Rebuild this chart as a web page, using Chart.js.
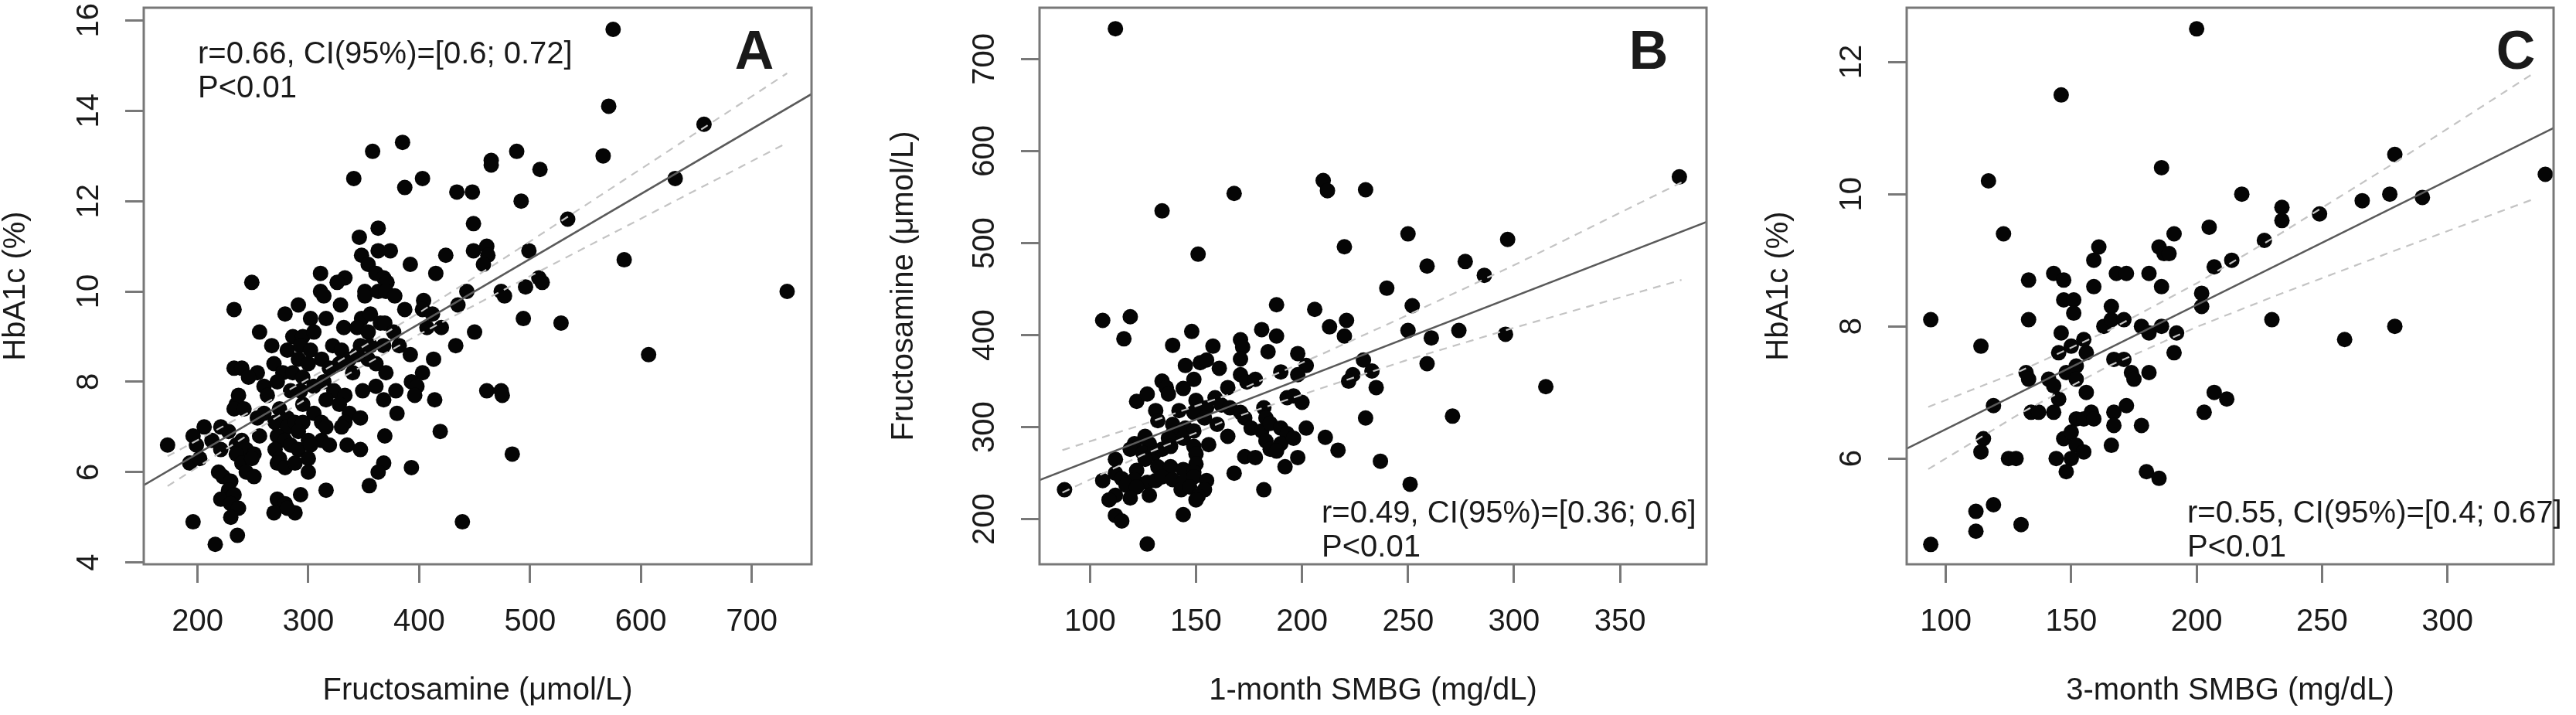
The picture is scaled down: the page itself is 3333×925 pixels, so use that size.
<!DOCTYPE html>
<html>
<head>
<meta charset="utf-8">
<script src="https://cdn.jsdelivr.net/npm/chart.js@4.4.0/dist/chart.umd.min.js"></script>
<style>
  body { margin: 0; background: #fff; width: 3333px; height: 925px; overflow: hidden; position: relative;
         font-family: "Liberation Sans", Arial, sans-serif; color: #1a1a1a; }
  .panel { position: absolute; top: 0; height: 925px; }
  .note { position: absolute; font-size: 40px; line-height: 44px; white-space: nowrap; }
  .tag { position: absolute; width: 120px; text-align: center; font-size: 70px; line-height: 80px; font-weight: bold; }
</style>
</head>
<body>
<div class="panel" style="left:0;width:1120px"><canvas id="chartA"></canvas></div>
<div class="panel" style="left:1130px;width:1110px"><canvas id="chartB"></canvas></div>
<div class="panel" style="left:2250px;width:1083px"><canvas id="chartC"></canvas></div>

<div class="note" style="left:256px;top:46px">r=0.66, CI(95%)=[0.6; 0.72]<br>P&lt;0.01</div>
<div class="note" style="left:1710px;top:640px">r=0.49, CI(95%)=[0.36; 0.6]<br>P&lt;0.01</div>
<div class="note" style="left:2830px;top:640px">r=0.55, CI(95%)=[0.4; 0.67]<br>P&lt;0.01</div>
<div class="tag" style="left:916px;top:25px">A</div>
<div class="tag" style="left:2073px;top:25px">B</div>
<div class="tag" style="left:3195px;top:25px">C</div>

<script>
// Panel A: HbA1c vs fructosamine
const aFructosamine = [
  449,363,346,363,374,348,354,424,392,449, 461,462,458,415,311,249,333,326,361,368,
  371,311,314,351,351,363,370,378,474,477, 443,233,291,279,329,387,404,403,435,302,
  316,348,356,365,369,412,407,420,256,332, 344,354,450,286,295,305,267,281,293,302,
  322,330,347,356,368,377,382,433,392,413, 291,300,312,269,277,233,240,254,246,286,
  295,319,328,337,344,354,361,340,370,403, 393,398,260,272,305,314,237,235,263,284,
  293,323,333,349,361,379,461,474,475,368, 396,414,233,242,254,260,274,281,295,305,
  316,328,337,347,380,206,221,228,270,281, 288,295,312,333,330,196,199,213,240,256,
  272,279,291,300,316,312,369,419,173,221, 235,244,251,270,274,284,291,302,319,335,
  347,193,202,235,240,249,272,279,288,300, 368,393,219,223,230,244,251,300,363,355,
  316,228,221,233,293,272,279,230,237,269, 288,281,230,196,439,236,216,
  385,358,465,465,341,403,387,434,448,575, 571,657,488,566,509,631,492,534,499,585,
  732,496,508,511,494,528,607,484
];
const aHbA1c = [
  11.5,11.4,11.2,10.9,10.9,10.8,10.6,10.8,10.6,10.9, 11.0,10.8,10.6,10.4,10.4,10.2,10.3,10.2,10.4,10.3,
  10.2,10.0,9.9,10.0,9.9,10.0,10.0,9.9,10.0,9.9, 10.0,9.6,9.7,9.5,9.7,9.6,9.8,9.6,9.7,9.4,
  9.4,9.4,9.5,9.3,9.3,9.5,9.2,9.2,9.1,9.2, 9.2,9.1,9.1,9.0,9.0,9.1,8.8,8.7,8.8,8.7,
  8.8,8.7,8.8,8.8,8.8,9.1,8.8,8.8,8.6,8.5, 8.5,8.4,8.5,8.4,8.2,8.3,8.3,8.2,8.1,8.2,
  8.1,8.3,8.4,8.5,8.6,8.5,8.4,8.2,8.2,8.2, 8.0,7.9,7.9,8.0,7.9,8.0,7.7,7.5,7.7,7.8,
  7.8,7.8,7.7,7.8,7.9,7.8,7.8,7.8,7.7,7.6, 7.7,7.6,7.4,7.4,7.2,7.3,7.4,7.2,7.5,7.3,
  7.6,7.5,7.3,7.2,7.3,7.0,7.0,6.9,7.1,7.0, 7.1,7.1,7.1,7.1,7.0,6.8,6.6,6.7,6.7,6.8,
  6.8,6.7,6.9,6.7,7.0,6.7,6.8,6.9,6.6,6.5, 6.6,6.5,6.4,6.5,6.3,6.6,6.5,6.6,6.6,6.6,
  6.5,6.2,6.3,6.4,6.2,6.3,6.2,6.1,6.2,6.3, 6.2,6.1,6.0,5.9,5.8,6.0,5.9,6.0,6.0,5.7,
  5.6,5.6,5.4,5.5,5.5,5.4,5.3,5.3,5.2,5.1, 5.1,5.2,5.0,4.9,4.9,4.6,4.4,
  13.3,13.1,12.9,12.8,12.5,12.5,12.3,12.2,12.2,15.8, 14.1,13.7,13.1,13.0,12.7,12.5,12.0,11.6,10.9,10.7,
  10.0,10.1,10.3,10.2,9.4,9.3,8.6,6.4
];
const aFitX = [151.5, 754];
const aFitY = [5.71, 14.37];
const aBandX = [173, 250, 320, 400, 479, 600, 732];
const aBandUpper = [6.35, 7.37, 8.34, 9.53, 10.77, 12.71, 14.83];
const aBandLower = [5.69, 6.89, 7.95, 9.05, 10.07, 11.61, 13.29];
const aXTicks = [200, 300, 400, 500, 600, 700];
const aYTicks = [4, 6, 8, 10, 12, 14, 16];

// Panel B: fructosamine vs 1-month SMBG
const bSmbg1 = [
  151,220,240,188,206,106,119,116,148,181, 188,213,221,220,139,158,171,172,184,198,
  202,145,152,155,161,171,190,198,229,233, 224,222,134,136,149,144,171,174,178,165,
  235,122,127,137,150,159,155,162,166,193, 196,200,131,132,142,149,154,182,183,171,
  173,160,139,139,145,149,176,181,185,190, 193,230,202,211,165,126,128,121,119,137,
  144,149,156,183,185,190,196,217,112,125, 130,134,138,150,150,173,178,188,198,237,
  126,132,138,112,115,122,121,144,149,168, 192,106,127,131,134,139,144,149,155,117,
  122,88,143,147,154,182,112,109,119,128, 151,150,112,115,144,127,
  112,134,168,210,212,230,250,297,259,277, 286,378,252,250,261,274,296,259,315,271,251
];
const bFructosamine = [
  488,496,451,433,428,416,420,396,404,406, 399,409,416,399,389,388,395,387,382,380,
  367,367,370,373,364,374,360,357,373,361, 357,350,350,343,352,342,357,349,352,343,
  343,328,336,336,329,332,321,324,321,332, 334,327,318,307,318,316,310,321,310,316,
  310,303,303,293,299,296,299,296,304,299, 293,310,299,289,290,290,282,282,276,288,
  288,279,281,285,276,282,288,275,265,272, 271,276,279,271,260,268,267,274,267,263,
  265,257,257,250,244,253,243,254,251,250, 257,242,240,242,246,243,240,246,242,237,
  235,232,232,235,232,232,226,221,223,226, 225,221,204,198,205,173,
  733,535,554,568,557,558,510,504,475,480, 465,572,432,405,397,405,401,369,344,312,238
];
const bFitX = [76.2, 390.8];
const bFitY = [242.5, 523];
const bBandX = [87, 125, 165, 210, 251, 300, 379];
const bBandUpper = [275, 303, 335, 380, 423, 476, 566];
const bBandLower = [229, 270, 308, 343, 374, 408, 460];
const bXTicks = [100, 150, 200, 250, 300, 350];
const bYTicks = [200, 300, 400, 500, 600, 700];

// Panel C: HbA1c vs 3-month SMBG
const cSmbg3 = [
  123,205,191,227,161,185,187,189,159,207, 214,143,147,168,172,181,133,159,186,202,
  202,147,151,151,166,94,133,230,163,166, 171,178,181,186,192,146,114,155,156,150,
  145,191,167,171,174,175,181,132,133,141, 143,148,152,152,156,145,119,207,212,134,
  137,143,167,172,152,155,158,159,167,203, 178,147,150,152,115,114,125,128,144,150,
  155,166,148,180,185,119,112,130,112,94,
  200,146,117,186,279,218,266,277,290,339, 234,234,249,259,279
];
const cHbA1c = [
  9.4,9.5,9.4,9.3,9.2,9.2,9.1,9.1,9.0,8.9, 9.0,8.8,8.7,8.8,8.8,8.8,8.7,8.6,8.6,8.5,
  8.3,8.4,8.4,8.2,8.3,8.1,8.1,8.1,8.0,8.1, 8.1,8.0,7.9,8.0,7.9,7.9,7.7,7.8,7.6,7.7,
  7.6,7.6,7.5,7.5,7.3,7.2,7.3,7.3,7.2,7.2, 7.1,7.3,7.4,7.2,7.0,6.9,6.8,7.0,6.9,6.7,
  6.7,6.7,6.7,6.8,6.6,6.6,6.7,6.6,6.5,6.7, 6.5,6.3,6.4,6.2,6.3,6.1,6.0,6.0,6.0,6.0,
  6.1,6.2,5.8,5.8,5.7,5.3,5.2,5.0,4.9,4.7,
  12.5,11.5,10.2,10.4,10.6,10.0,9.9,10.0,9.95,10.3, 9.8,9.6,9.7,7.8,8.0
];
const cFitX = [84.4, 342.3];
const cFitY = [6.15, 11.0];
const cBandX = [93, 130, 165, 200, 232, 280, 334];
const cBandUpper = [6.78, 7.33, 7.94, 8.65, 9.37, 10.50, 11.82];
const cBandLower = [5.84, 6.69, 7.40, 7.99, 8.47, 9.16, 9.92];
const cXTicks = [100, 150, 200, 250, 300];
const cYTicks = [6, 8, 10, 12];

const FONT = "'Liberation Sans', Arial, sans-serif";
const TEXT = '#1a1a1a';
const FRAME = '#787878';
Chart.defaults.font.family = FONT;

const zip = (xs, ys) => xs.map((x, i) => ({ x, y: ys[i] }));

// draws the box round the plotting region, like R's box()
const framePlugin = {
  id: 'frame',
  afterDatasetsDraw(chart) {
    const { ctx, chartArea: a } = chart;
    ctx.save();
    ctx.strokeStyle = FRAME;
    ctx.lineWidth = 3;
    ctx.strokeRect(a.left, a.top, a.right - a.left, a.bottom - a.top);
    ctx.restore();
  }
};

function makePanel(id, p) {
  const tickFont = { family: FONT, size: 40, lineHeight: 1 };
  new Chart(document.getElementById(id), {
    type: 'scatter',
    data: {
      datasets: [
        { type: 'line', data: zip(p.bandX, p.upper), borderColor: '#c4c4c4', borderWidth: 2.2,
          borderDash: [10, 8], pointRadius: 0, fill: false },
        { type: 'line', data: zip(p.bandX, p.lower), borderColor: '#c4c4c4', borderWidth: 2.2,
          borderDash: [10, 8], pointRadius: 0, fill: false },
        { type: 'line', data: zip(p.fitX, p.fitY), borderColor: '#5a5a5a', borderWidth: 2.6,
          pointRadius: 0, fill: false },
        { data: zip(p.xs, p.ys), pointRadius: 10, pointHoverRadius: 10,
          backgroundColor: '#050505', borderWidth: 0 }
      ]
    },
    options: {
      responsive: true,
      maintainAspectRatio: false,
      animation: false,
      events: [],
      layout: { padding: { top: p.top, right: p.right, left: 0, bottom: 0 } },
      plugins: { legend: { display: false }, tooltip: { enabled: false } },
      scales: {
        x: {
          type: 'linear', position: 'bottom', min: p.xRange[0], max: p.xRange[1],
          afterBuildTicks: s => { s.ticks = p.xTicks.map(v => ({ value: v })); },
          afterFit: s => { s.height = 195; s.paddingLeft = 0; s.paddingRight = 0; },
          border: { display: false },
          grid: { drawOnChartArea: false, drawTicks: true, tickLength: 24, tickWidth: 3, tickColor: FRAME },
          ticks: { font: tickFont, color: TEXT, padding: 31, maxRotation: 0, autoSkip: false,
                   callback: v => String(v) },
          title: { display: true, text: p.xTitle, color: TEXT, font: { size: 40, lineHeight: 1 },
                   padding: { top: 0, bottom: 11 } }
        },
        y: {
          type: 'linear', position: 'left', min: p.yRange[0], max: p.yRange[1],
          afterBuildTicks: s => { s.ticks = p.yTicks.map(v => ({ value: v })); },
          afterFit: s => { s.width = p.left; s.paddingTop = 0; s.paddingBottom = 0; },
          border: { display: false },
          grid: { drawOnChartArea: false, drawTicks: true, tickLength: 24, tickWidth: 3, tickColor: FRAME },
          ticks: { font: tickFont, color: TEXT, padding: p.yPad, minRotation: 90, maxRotation: 90,
                   crossAlign: 'center', autoSkip: false, callback: v => String(v) },
          title: { display: true, text: p.yTitle, color: TEXT, font: { size: 40, lineHeight: 1 },
                   padding: { top: p.yTitlePad, bottom: 0 } }
        }
      }
    },
    plugins: [framePlugin]
  });
}

makePanel('chartA', {
  xs: aFructosamine, ys: aHbA1c, fitX: aFitX, fitY: aFitY,
  bandX: aBandX, upper: aBandUpper, lower: aBandLower,
  xRange: [151.5, 754], yRange: [3.96, 16.28], xTicks: aXTicks, yTicks: aYTicks,
  xTitle: 'Fructosamine (μmol/L)', yTitle: 'HbA1c (%)',
  left: 186, right: 70, top: 7, yPad: 24, yTitlePad: 1
});

makePanel('chartB', {
  xs: bSmbg1, ys: bFructosamine, fitX: bFitX, fitY: bFitY,
  bandX: bBandX, upper: bBandUpper, lower: bBandLower,
  xRange: [76.2, 390.8], yRange: [151, 755.8], xTicks: bXTicks, yTicks: bYTicks,
  xTitle: '1-month SMBG (mg/dL)', yTitle: 'Fructosamine (μmol/L)',
  left: 215, right: 32, top: 7, yPad: 13, yTitlePad: 20
});

makePanel('chartC', {
  xs: cSmbg3, ys: cHbA1c, fitX: cFitX, fitY: cFitY,
  bandX: cBandX, upper: cBandUpper, lower: cBandLower,
  xRange: [84.4, 342.3], yRange: [4.40, 12.82], xTicks: cXTicks, yTicks: cYTicks,
  xTitle: '3-month SMBG (mg/dL)', yTitle: 'HbA1c (%)',
  left: 217, right: 29, top: 8, yPad: 24, yTitlePad: 32
});
</script>
</body>
</html>
